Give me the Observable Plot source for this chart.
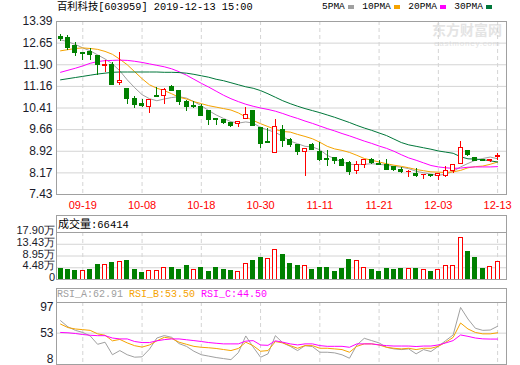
<!DOCTYPE html>
<html><head><meta charset="utf-8">
<script src="https://cdn.jsdelivr.net/npm/d3@7"></script>
<script src="https://cdn.jsdelivr.net/npm/@observablehq/plot@0.6"></script>
<style>
body{margin:0;background:#fff;}
#wrap{position:relative;width:520px;height:365px;overflow:hidden;background:#fff;}
.t{position:absolute;white-space:nowrap;line-height:1;font-family:"Liberation Mono","DejaVu Sans Mono","Noto Sans CJK SC",monospace;font-size:10px;color:#000;}
.cjk{font-family:"Noto Sans CJK SC",sans-serif;}
</style></head><body><div id="wrap"></div>
<script>
// ---------- data ----------
const stockName = "百利科技[603959] 2019-12-13 15:00";
const dates = ["09-16","09-17","09-18","09-19","09-20","09-23","09-24","09-25","09-26","09-27","09-30","10-08","10-09","10-10","10-11","10-14","10-15","10-16","10-17","10-18","10-21","10-22","10-23","10-24","10-25","10-28","10-29","10-30","10-31","11-01","11-04","11-05","11-06","11-07","11-08","11-11","11-12","11-13","11-14","11-15","11-18","11-19","11-20","11-21","11-22","11-25","11-26","11-27","11-28","11-29","12-02","12-03","12-04","12-05","12-06","12-09","12-10","12-11","12-12","12-13"];
const tickDates = ["09-19","10-08","10-18","10-30","11-11","11-21","12-03","12-13"];
const open = [12.85,12.82,12.54,12.31,12.33,12.20,11.87,11.90,11.26,11.05,10.71,10.56,10.45,10.82,10.83,11.14,11.01,10.63,10.49,10.43,10.29,10.04,9.98,9.89,9.86,10.04,10.29,9.71,9.23,8.86,9.64,9.32,9.12,8.89,9.12,8.89,8.67,8.70,8.63,8.51,8.23,8.46,8.61,8.47,8.44,8.38,8.26,8.19,8.15,8.09,8.09,8.06,8.07,8.24,8.47,8.92,8.70,8.63,8.60,8.72];
const high = [12.94,12.90,12.68,12.31,12.45,12.20,12.03,11.97,12.31,11.08,10.80,10.69,10.69,11.11,11.09,11.18,11.01,10.66,10.63,10.52,10.29,10.06,10.01,9.89,9.92,10.43,10.32,9.71,9.69,10.00,9.81,9.37,9.15,9.01,9.18,9.23,8.93,8.72,8.67,8.55,8.55,8.63,8.67,8.61,8.63,8.40,8.36,8.26,8.32,8.10,8.13,8.15,8.38,8.43,9.27,8.95,8.71,8.63,8.65,8.84];
const low = [12.71,12.40,12.17,12.05,12.06,11.53,11.65,11.17,11.19,10.54,10.39,10.42,10.23,10.78,10.54,10.98,10.49,10.29,10.40,10.13,9.81,9.81,9.85,9.75,9.75,10.00,9.77,9.01,9.20,8.86,9.06,9.06,8.77,8.06,8.93,8.58,8.38,8.47,8.38,8.07,8.12,8.32,8.47,8.43,8.24,8.23,8.15,8.03,8.03,7.95,8.03,7.90,8.03,8.15,8.47,8.75,8.57,8.58,8.54,8.61];
const close = [12.79,12.48,12.29,12.28,12.22,11.88,11.90,11.19,11.34,10.71,10.50,10.47,10.69,10.78,11.02,11.01,10.63,10.43,10.46,10.15,10.01,9.98,9.89,9.78,9.92,10.17,9.78,9.16,9.20,9.75,9.27,9.12,8.89,9.01,8.97,8.61,8.63,8.58,8.40,8.21,8.44,8.61,8.51,8.45,8.26,8.26,8.20,8.20,8.06,8.10,8.08,8.13,8.23,8.43,9.04,8.79,8.58,8.58,8.62,8.74];
const ma5 = [12.76,12.69,12.60,12.48,12.38,12.24,12.10,11.93,11.69,11.38,11.11,10.87,10.73,10.66,10.72,10.77,10.80,10.75,10.63,10.49,10.32,10.17,10.05,9.94,9.89,9.93,9.89,9.74,9.65,9.57,9.43,9.27,9.18,9.09,9.07,8.97,8.78,8.66,8.55,8.47,8.46,8.47,8.49,8.47,8.44,8.40,8.37,8.32,8.23,8.18,8.13,8.09,8.13,8.23,8.38,8.50,8.61,8.67,8.72,8.66];
const ma10 = [12.38,12.42,12.46,12.48,12.46,12.43,12.36,12.26,12.09,11.90,11.66,11.42,11.21,11.09,11.01,10.90,10.78,10.72,10.63,10.56,10.49,10.44,10.39,10.34,10.24,10.10,9.98,9.87,9.77,9.67,9.60,9.58,9.50,9.43,9.35,9.23,9.09,9.00,8.95,8.88,8.78,8.67,8.61,8.55,8.49,8.44,8.40,8.35,8.29,8.25,8.21,8.20,8.19,8.21,8.26,8.35,8.39,8.41,8.47,8.55];
const ma20 = [11.64,11.71,11.78,11.86,11.95,12.01,12.04,12.05,12.06,12.05,12.02,11.98,11.93,11.88,11.83,11.76,11.66,11.54,11.40,11.26,11.13,10.99,10.85,10.73,10.63,10.54,10.47,10.41,10.36,10.30,10.22,10.13,10.05,9.96,9.88,9.79,9.70,9.62,9.53,9.45,9.36,9.27,9.19,9.10,9.02,8.92,8.80,8.69,8.61,8.52,8.43,8.38,8.35,8.33,8.34,8.37,8.38,8.38,8.38,8.39];
const ma30 = [11.38,11.42,11.46,11.50,11.54,11.58,11.61,11.64,11.65,11.65,11.65,11.65,11.65,11.65,11.64,11.64,11.63,11.61,11.57,11.52,11.47,11.40,11.35,11.28,11.21,11.14,11.09,11.01,10.90,10.78,10.66,10.56,10.47,10.39,10.32,10.25,10.17,10.09,10.00,9.91,9.81,9.72,9.64,9.55,9.46,9.34,9.22,9.14,9.09,9.04,8.99,8.93,8.89,8.85,8.73,8.66,8.65,8.63,8.59,8.55];
const maNames = ["5PMA","10PMA","20PMA","30PMA"];
const maColors = ["#a0a0a0","#f5a300","#ff00ff","#00773a"];
const priceTicks = [7.43,8.175,8.92,9.665,10.41,11.155,11.9,12.645,13.39];
const priceLabels = ["7.43","8.17","8.92","9.66","10.41","11.16","11.90","12.65","13.39"];
// volume, unit 万
const volume = [3.83,3.45,3.07,3.07,3.45,5.37,5.37,6.13,6.52,6.90,3.45,2.30,3.07,3.07,4.47,4.22,3.45,4.98,3.45,4.22,2.68,4.22,3.45,3.07,2.68,5.75,6.90,8.18,7.92,11.37,9.20,5.75,4.98,5.24,3.45,4.22,4.47,2.68,3.83,7.28,6.90,4.47,3.45,2.68,3.83,3.45,4.09,4.09,4.09,3.45,2.68,3.71,5.24,4.98,15.98,10.35,8.05,4.09,4.86,6.6414];
const volUp = [0,0,0,1,0,0,1,0,1,0,0,0,1,1,1,0,0,0,1,0,0,0,0,0,1,1,0,0,1,1,0,0,0,1,0,0,0,0,0,0,1,1,0,0,0,0,0,1,0,1,0,1,1,1,1,0,0,0,1,1];
const volTicks = [0,4.475,8.95,13.425,17.9];
const volLabels = ["0","4.48万","8.95万","13.43万","17.90万"];
const volTitle = "成交量";
const volLast = "66414";
// RSI
const rsiA = [70.9,62,57,54,49,37,40,22,28,22,18.5,19,30,46,49.5,47,38,34,27,22,20,18,16.5,15,25,49,33,18.4,23.3,49.4,39,34.1,28,35.1,33.7,25.6,25.6,24.7,21.9,17,36.1,45.6,42.3,39,32.7,30.4,29.4,30.4,23.3,29.4,26.6,34.1,42.3,50.4,89.9,73.3,60,57,57.5,62.91];
const rsiB = [66,61,59,58,57,52,50,42,44,39,35,33,36,42,47,45.5,40,37,34,32.7,32,31,29.5,28,31,40,35,27,28,40.9,39,35.1,31.3,35.1,35.1,31.3,31.3,30.4,29.4,25.6,34.1,37.6,37.6,36.1,32.7,31.3,30.4,31.3,29.4,31.3,31.3,34.1,39.9,47,67.6,59,54,52,52,53.5];
const rsiC = [54,53.5,52.5,51,50,49.4,49.4,46,44.7,44.7,41,39.5,39.5,42,43.7,44.7,44.7,43.5,42.3,41,39.5,38.5,37.6,37.6,37.6,41.5,42.3,36,35.5,42,40,37.6,36.1,37.6,37.6,35.1,34.1,34.1,34.1,32.7,37.6,37.6,37.6,36.1,35.1,34.5,34.5,34.5,33.8,34.5,34.5,36.1,39,42.3,50.4,48.4,46,44.8,44.5,44.5];
const rsiNames = ["RSI_A","RSI_B","RSI_C"];
const rsiColors = ["#a0a0a0","#f5a300","#ff00ff"];
const rsiTicks = [8,53,97];

// ---------- styling ----------
const RED = "#ff0000", GREEN = "#008000";
const FRAME = "#a0a0a0", GRID = "#d4d4d4";
const xDomain = [-0.55, 60.2];
const axisFont = "Liberation Sans, Arial, sans-serif";
const wrap = document.getElementById("wrap");
const tickIdx = tickDates.map(d => dates.indexOf(d));

function place(el, top) {
  el.style.position = "absolute"; el.style.left = "0px"; el.style.top = top + "px";
  el.style.background = "transparent"; el.style.overflow = "visible";
  wrap.appendChild(el);
}
function txt(html, left, top, extra) {
  const d = document.createElement("div");
  d.className = "t"; d.innerHTML = html;
  d.style.left = left + "px"; d.style.top = top + "px";
  if (extra) Object.assign(d.style, extra);
  wrap.appendChild(d); return d;
}

// watermark
txt("东方财富网", 432, 22, {fontFamily:"Noto Sans CJK SC", fontSize:"14px", color:"#e4e4e4", fontWeight:"bold"});
txt("eastmoney.com", 434, 39.5, {fontFamily:"Liberation Sans", fontSize:"8px", color:"#e4e4e4", letterSpacing:"0.8px"});

const rows = dates.map((d, i) => ({i, o: open[i], h: high[i], l: low[i], c: close[i], up: close[i] >= open[i]}));
const isUp = d => d.up, isDown = d => !d.up;

function candleMarks(sel, color, hollow) {
  return [
    Plot.ruleX(rows, {filter: sel, x: "i", y1: "h", y2: d => Math.max(d.o, d.c), stroke: color, shapeRendering: "crispEdges"}),
    Plot.ruleX(rows, {filter: sel, x: "i", y1: d => Math.min(d.o, d.c), y2: "l", stroke: color, shapeRendering: "crispEdges"}),
    Plot.rect(rows, {filter: sel, x1: d => d.i - 0.27, x2: d => d.i + 0.27, y1: "o", y2: "c",
      fill: hollow ? "#fff" : color, stroke: color, shapeRendering: "crispEdges"})
  ];
}

// ---------- main price panel ----------
const maList = [ma5, ma10, ma20, ma30];
const main = Plot.plot({
  width: 520, height: 212,
  marginLeft: 56, marginRight: 14, marginTop: 21, marginBottom: 18,
  style: {fontFamily: axisFont, fontSize: "12px", color: "#222", background: "transparent"},
  x: {domain: xDomain, axis: null},
  y: {domain: [7.43, 13.39], axis: null},
  marks: [
    Plot.gridY(priceTicks.slice(1, -1), {stroke: GRID, strokeOpacity: 1}),
    Plot.gridX(tickIdx, {stroke: GRID, strokeOpacity: 1, strokeDasharray: "4,3"}),
    Plot.axisY(priceTicks, {anchor: "left", label: null, tickSize: 0, tickPadding: 4, fill: "#1a1a2a", fontSize: 12,
      tickFormat: d => priceLabels[priceTicks.indexOf(d)]}),
    Plot.axisX(tickIdx, {anchor: "bottom", label: null, tickSize: 0, tickPadding: 7, fill: RED, fontSize: 11,
      tickFormat: d => dates[d]}),
    ...maList.map((arr, k) => Plot.line(arr, {x: (d, i) => i, y: d => d, stroke: maColors[k], strokeWidth: 1})),
    ...candleMarks(isDown, GREEN, false),
    ...candleMarks(isUp, RED, true),
    Plot.frame({stroke: FRAME})
  ]
});
place(main, 0);

// title + legend
txt(stockName, 57, 2, {fontSize: "10.3px"});
const leg = document.createElement("div");
leg.className = "t";
Object.assign(leg.style, {left: "322px", top: "2px", display: "flex", alignItems: "center", fontSize: "9.5px"});
leg.innerHTML = maNames.map((n, k) =>
  `<span>${n}</span><span style="display:inline-block;width:6px;height:4px;background:${maColors[k]};margin:0 8.5px 0 3px"></span>`).join("");
wrap.appendChild(leg);

// ---------- volume panel ----------
const vrows = volume.map((v, i) => ({i, v, up: volUp[i] === 1}));
const vol = Plot.plot({
  width: 520, height: 65,
  marginLeft: 56, marginRight: 14, marginTop: 17, marginBottom: 1,
  style: {fontFamily: axisFont, fontSize: "11px", color: "#222", background: "transparent"},
  x: {domain: xDomain, axis: null},
  y: {domain: [0, 17.9], axis: null},
  marks: [
    Plot.gridY(volTicks.slice(1, -1), {stroke: GRID, strokeOpacity: 1}),
    Plot.gridX(tickIdx, {stroke: GRID, strokeOpacity: 1, strokeDasharray: "4,3"}),
    Plot.axisY(volTicks, {anchor: "left", label: null, tickSize: 0, tickPadding: 1.5, dy: -2, fill: "#1a1a2a", fontSize: 11,
      tickFormat: d => volLabels[volTicks.indexOf(d)]}),
    Plot.rect(vrows, {filter: d => !d.up, x1: d => d.i - 0.27, x2: d => d.i + 0.27, y1: 0, y2: "v",
      fill: GREEN, stroke: GREEN, shapeRendering: "crispEdges"}),
    Plot.rect(vrows, {filter: d => d.up, x1: d => d.i - 0.27, x2: d => d.i + 0.27, y1: 0, y2: "v",
      fill: "#fff", stroke: RED, shapeRendering: "crispEdges"}),
    Plot.frame({stroke: FRAME})
  ]
});
place(vol, 215);
const vhead = document.createElement("div");
Object.assign(vhead.style, {position: "absolute", left: "56px", top: "215px", width: "451px", height: "18px",
  boxSizing: "border-box", border: "1px solid " + FRAME, borderBottom: "none"});
wrap.appendChild(vhead);
txt(`<span class="cjk" style="font-size:11px">${volTitle}</span>:${volLast}`, 58, 217.5, {fontSize: "10.5px"});

// ---------- RSI panel ----------
const rsiList = [rsiA, rsiB, rsiC];
const rsi = Plot.plot({
  width: 520, height: 77,
  marginLeft: 56, marginRight: 14, marginTop: 14, marginBottom: 1,
  style: {fontFamily: axisFont, fontSize: "12px", color: "#222", background: "transparent"},
  x: {domain: xDomain, axis: null},
  y: {domain: [8, 97], axis: null},
  marks: [
    Plot.gridY([rsiTicks[1]], {stroke: GRID, strokeOpacity: 1}),
    Plot.gridX(tickIdx, {stroke: GRID, strokeOpacity: 1, strokeDasharray: "4,3"}),
    Plot.axisY([rsiTicks[2]], {anchor: "left", label: null, tickSize: 0, tickPadding: 3, dy: 5, fill: "#1a1a2a", fontSize: 12}),
    Plot.axisY([rsiTicks[1]], {anchor: "left", label: null, tickSize: 0, tickPadding: 3, fill: "#1a1a2a", fontSize: 12}),
    Plot.axisY([rsiTicks[0]], {anchor: "left", label: null, tickSize: 0, tickPadding: 3, dy: -5, fill: "#1a1a2a", fontSize: 12}),
    ...rsiList.map((arr, k) => Plot.line(arr, {x: (d, i) => i, y: d => d, stroke: rsiColors[k], strokeWidth: 1})),
    Plot.frame({stroke: FRAME})
  ]
});
place(rsi, 288);
const rhead = document.createElement("div");
Object.assign(rhead.style, {position: "absolute", left: "56px", top: "288px", width: "451px", height: "15px",
  boxSizing: "border-box", border: "1px solid " + FRAME, borderBottom: "none"});
wrap.appendChild(rhead);
txt(rsiNames.map((n, k) => `<span style="color:${rsiColors[k]}">${n}:${rsiList[k][rsiList[k].length - 1].toFixed(2)}</span>`).join(" "),
  57, 290);
</script></body></html>
